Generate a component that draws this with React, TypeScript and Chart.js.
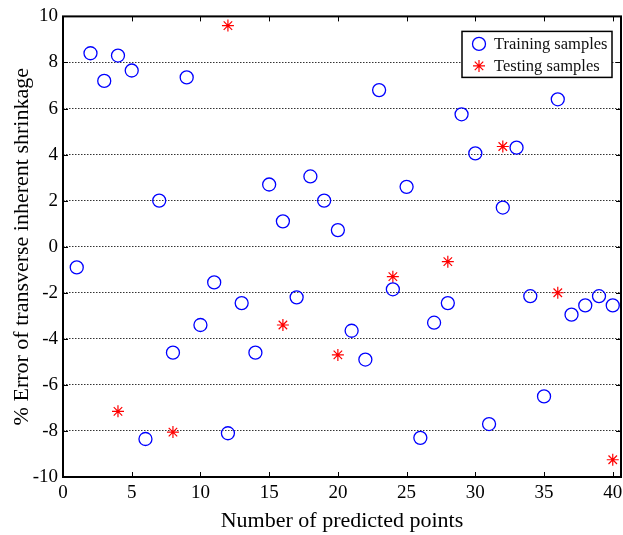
import React, { useEffect, useRef } from "react";
import { Chart, registerables } from "chart.js";
import { drawPoint } from "chart.js/helpers";

Chart.register(...registerables);

const trainX = [1, 2, 3, 4, 5, 6, 7, 8, 9, 10, 11, 12, 13, 14, 15, 16, 17, 18, 19, 20, 21, 22, 23, 24, 25, 26, 27, 28, 29, 30, 31, 32, 33, 34, 35, 36, 37, 38, 39, 40];
const trainY = [-0.9, 8.4, 7.2, 8.3, 7.65, -8.35, 2.0, -4.6, 7.35, -3.4, -1.55, -8.1, -2.45, -4.6, 2.7, 1.1, -2.2, 3.05, 2.0, 0.72, -3.65, -4.9, 6.8, -1.85, 2.6, -8.3, -3.3, -2.45, 5.75, 4.05, -7.7, 1.7, 4.3, -2.15, -6.5, 6.4, -2.95, -2.55, -2.15, -2.55];
const testX = [4, 8, 12, 16, 20, 24, 28, 32, 36, 40];
const testY = [-7.15, -8.05, 9.6, -3.4, -4.7, -1.3, -0.65, 4.35, -2.0, -9.25];
const xTicks = [0, 5, 10, 15, 20, 25, 30, 35, 40];
const yTicks = [-10, -8, -6, -4, -2, 0, 2, 4, 6, 8, 10];

const FONT = "'Liberation Serif', 'Times New Roman', serif";

const framePlugin = {
  id: "frame",
  afterDraw(chart: any) {
    const { ctx, chartArea } = chart;
    const { left, right, top, bottom } = chartArea;
    const xs = chart.scales.x;
    const ys = chart.scales.y;
    ctx.save();
    ctx.strokeStyle = "#000";
    ctx.lineWidth = 1;
    ctx.beginPath();
    for (const v of xTicks) {
      const px = Math.round(xs.getPixelForValue(v)) + 0.5;
      ctx.moveTo(px, bottom);
      ctx.lineTo(px, bottom - 5);
      ctx.moveTo(px, top);
      ctx.lineTo(px, top + 5);
    }
    for (const v of yTicks) {
      const py = Math.round(ys.getPixelForValue(v)) + 0.5;
      ctx.moveTo(left, py);
      ctx.lineTo(left + 5, py);
      ctx.moveTo(right, py);
      ctx.lineTo(right - 5, py);
    }
    ctx.stroke();
    ctx.lineWidth = 2;
    ctx.strokeRect(left, top, right - left, bottom - top);

    // legend
    const bw = 150;
    const bh = 46;
    const bx = right - 9 - bw;
    const by = top + 15;
    ctx.fillStyle = "#fff";
    ctx.fillRect(bx, by, bw, bh);
    ctx.lineWidth = 1.5;
    ctx.strokeStyle = "#000";
    ctx.strokeRect(bx, by, bw, bh);
    const rows = [by + 12.5, by + 34.5];
    chart.data.datasets.forEach((ds: any, i: number) => {
      ctx.save();
      ctx.strokeStyle = ds.borderColor;
      ctx.fillStyle = "rgba(0,0,0,0)";
      ctx.lineWidth = ds.borderWidth;
      drawPoint(ctx, { pointStyle: ds.pointStyle, radius: ds.pointRadius, borderWidth: ds.borderWidth, rotation: 0 }, bx + 17, rows[i]);
      ctx.restore();
      ctx.fillStyle = "#111";
      ctx.font = `16.5px ${FONT}`;
      ctx.textBaseline = "middle";
      ctx.textAlign = "left";
      ctx.fillText(ds.label, bx + 32, rows[i] + 1);
    });
    ctx.restore();
  },
};

export default function App() {
  const ref = useRef<HTMLCanvasElement>(null);
  useEffect(() => {
    if (!ref.current) return;
    const chart = new Chart(ref.current, {
      type: "scatter",
      data: {
        datasets: [
          {
            label: "Training samples",
            data: trainX.map((x, i) => ({ x, y: trainY[i] })),
            pointStyle: "circle",
            pointRadius: 6.5,
            borderColor: "#0000ff",
            backgroundColor: "rgba(0,0,0,0)",
            borderWidth: 1.3,
          },
          {
            label: "Testing samples",
            data: testX.map((x, i) => ({ x, y: testY[i] })),
            pointStyle: "star",
            pointRadius: 6,
            borderColor: "#ff0000",
            backgroundColor: "#ff0000",
            borderWidth: 1.2,
          },
        ],
      },
      options: {
        responsive: false,
        animation: false,
        devicePixelRatio: 1,
        layout: { autoPadding: false, padding: { top: 16, right: 2, left: 0, bottom: 0 } },
        plugins: { legend: { display: false }, tooltip: { enabled: false } },
        scales: {
          x: {
            type: "linear",
            min: 0,
            max: 40.6,
            afterBuildTicks: (s: any) => {
              s.ticks = xTicks.map((v) => ({ value: v }));
            },
            afterFit: (s: any) => {
              s.height = 58;
            },
            grid: { display: false, drawTicks: true, tickLength: 5 },
            border: { display: false },
            ticks: { color: "#000", font: { family: FONT, size: 19 }, padding: 0, maxRotation: 0 },
            title: {
              display: true,
              text: "Number of predicted points",
              color: "#000",
              font: { family: FONT, size: 22 },
              padding: { top: 0, bottom: 1 },
            },
          },
          y: {
            type: "linear",
            min: -10,
            max: 10,
            afterBuildTicks: (s: any) => {
              s.ticks = yTicks.map((v) => ({ value: v }));
            },
            afterFit: (s: any) => {
              s.width = 63;
            },
            grid: { color: "#333", lineWidth: 1, drawTicks: false },
            border: { display: false, dash: [1.5, 1.5] },
            ticks: { color: "#000", font: { family: FONT, size: 19 }, padding: 5 },
            title: {
              display: true,
              text: "% Error of transverse inherent shrinkage",
              color: "#000",
              font: { family: FONT, size: 22 },
              padding: { top: 9, bottom: 0 },
            },
          },
        },
      },
      plugins: [framePlugin],
    });
    return () => chart.destroy();
  }, []);
  return (
    <div style={{ position: "fixed", left: 0, top: 0, width: 623, height: 535, background: "#fff" }}>
      <canvas ref={ref} width={623} height={535} />
    </div>
  );
}
